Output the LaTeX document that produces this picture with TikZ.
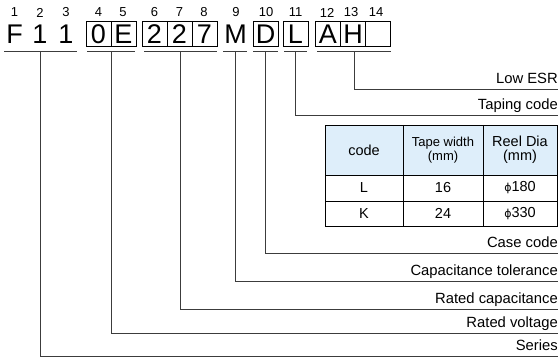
\documentclass[tikz,border=0pt]{standalone}
\usepackage{fontspec}
\setmainfont{Liberation Sans}
\newfontfamily\phifont{DejaVu Sans}
\usepackage{tikz}
\usetikzlibrary{calc}
\definecolor{hdrblue}{RGB}{222,238,250}
\definecolor{leadgray}{RGB}{60,60,60}
\newcommand{\dia}{{\phifont\fontsize{11}{11}\selectfont ϕ}}

\tikzset{
  chr/.style={font=\fontsize{27}{27}\selectfont, inner sep=0pt, minimum width=25pt, minimum height=25pt, text height=19.3pt, text depth=0pt},
  cell/.style={chr, draw, line width=0.7pt},
  posnum/.style={font=\fontsize{13}{13}\selectfont, inner sep=0pt},
  lbl/.style={font=\fontsize{14.8}{14.8}\selectfont, anchor=south east, inner sep=0pt, text depth=5pt},
  uline/.style={line width=1.1pt, draw=leadgray},
  lead/.style={line width=0.8pt, draw=leadgray},
  tab/.style={font=\fontsize{14.5}{14.5}\selectfont, inner sep=0pt, align=center},
  tabs/.style={font=\fontsize{13}{13.5}\selectfont, inner sep=0pt, align=center}
}

\begin{document}
\begin{tikzpicture}[x=1pt, y=-1pt]
\useasboundingbox (0,0) rectangle (560,358);

% position numbers
\node[posnum] (p1) at (14.5,12.5) {1};
\node[posnum] (p2) at (40,12.5) {2};
\node[posnum] (p3) at (66,12.5) {3};
\node[posnum] (p4) at (98.5,12.5) {4};
\node[posnum] (p5) at (123,12.5) {5};
\node[posnum] (p6) at (154.5,12.5) {6};
\node[posnum] (p7) at (179.5,12.5) {7};
\node[posnum] (p8) at (204,12.5) {8};
\node[posnum] (p9) at (236,12.5) {9};
\node[posnum] (p10) at (266,12.5) {10};
\node[posnum] (p11) at (295.5,12.5) {11};
\node[posnum] (p12) at (327,12.5) {12};
\node[posnum] (p13) at (351,12.5) {13};
\node[posnum] (p14) at (376,12.5) {14};

% the code itself
\node[chr] (c1) at (14.5,34) {F};
\node[chr] (c2) at (40,34) {1};
\node[chr] (c3) at (66,34) {1};
\node[cell] (c4) at (98.5,34) {0};
\node[cell] (c5) at (123.5,34) {E};
\node[cell] (c6) at (154.5,34) {2};
\node[cell] (c7) at (179.5,34) {2};
\node[cell] (c8) at (204.5,34) {7};
\node[chr] (c9) at (235.5,34) {M};
\node[cell] (c10) at (265.5,34) {D};
\node[cell] (c11) at (295.5,34) {L};
\node[cell] (c12) at (328,34) {A};
\node[cell] (c13) at (353,34) {H};
\node[cell] (c14) at (378,34) {};

% underlines of the groups
\draw[uline] (4,51.7) -- (77,51.7) coordinate[midway] (g1);
\draw[uline] (87,51.7) -- (135,51.7) coordinate[midway] (g2);
\draw[uline] (144,51.7) -- (217,51.7) coordinate[midway] (g3);
\draw[uline] (223,51.7) -- (247,51.7) coordinate[midway] (g4);
\draw[uline] (253,51.7) -- (278,51.7) coordinate[midway] (g5);
\draw[uline] (284,51.7) -- (307,51.7) coordinate[midway] (g6);
\draw[uline] (317,51.7) -- (391,51.7) coordinate[midway] (g7);

% labels
\node[lbl] (esr) at (558,89) {Low ESR};
\node[lbl] (taping) at (558,115) {Taping code};
\node[lbl] (case) at (558,253) {Case code};
\node[lbl] (tol) at (558,281) {Capacitance tolerance};
\node[lbl] (cap) at (558,309) {Rated capacitance};
\node[lbl] (volt) at (558,333) {Rated voltage};
\node[lbl] (ser) at (558,356) {Series};

% leads
\draw[lead] (g7) |- (esr.south east);
\draw[lead] (g6) |- (taping.south east);
\draw[lead] (g5) |- (case.south east);
\draw[lead] (g4) |- (tol.south east);
\draw[lead] (g3) |- (cap.south east);
\draw[lead] (g2) |- (volt.south east);
\draw[lead] (g1) |- (ser.south east);

% taping table
\fill[hdrblue] (325,125) rectangle (557,175);
\draw[line width=0.7pt] (325,125) rectangle (557,226);
\draw[line width=0.7pt] (403,125) -- (403,226);
\draw[line width=0.7pt] (483,125) -- (483,226);
\draw[line width=0.7pt] (325,175) -- (557,175);
\draw[line width=0.7pt] (325,201) -- (557,201);
\node[tab] (h1) at (364,150) {code};
\node[tabs] (h2) at (443,150) {Tape width\\(mm)};
\node[tab] (h3) at (520,149.5) {Reel Dia\\(mm)};
\node[tab] (r1a) at (364,188) {L};
\node[tab] (r1b) at (443,188) {16};
\node[tab] (r1c) at (520,188) {\dia180};
\node[tab] (r2a) at (364,213.5) {K};
\node[tab] (r2b) at (443,213.5) {24};
\node[tab] (r2c) at (520,213.5) {\dia330};

\end{tikzpicture}
\end{document}
